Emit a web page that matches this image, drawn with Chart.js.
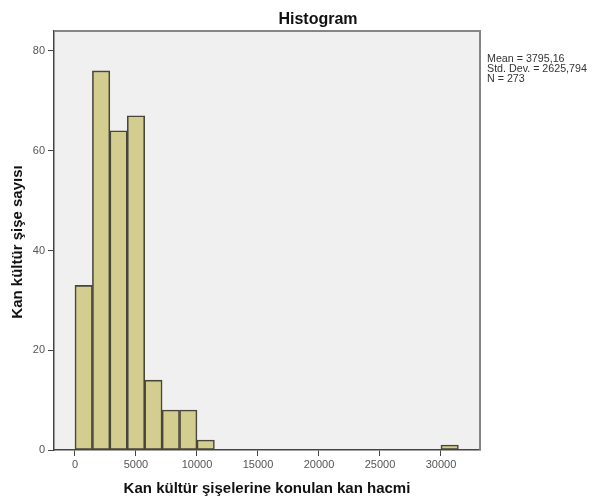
<!DOCTYPE html>
<html>
<head>
<meta charset="utf-8">
<title>Histogram</title>
<script src="https://cdn.jsdelivr.net/npm/chart.js@4.4.1/dist/chart.umd.min.js"></script>
<style>
  html, body { margin: 0; padding: 0; background: #ffffff; }
  #wrap { width: 592px; height: 501px; }
</style>
</head>
<body>
<div id="wrap"><canvas id="histChart" width="592" height="501"></canvas></div>
<script>
// Histogram bins: width ~1428.6, starting at 0
const binStart = 0;
const binWidth = 10000 / 7;
const binCounts = [33, 76, 64, 67, 14, 8, 8, 2, 0, 0, 0, 0, 0, 0, 0, 0, 0, 0, 0, 0, 0, 1];
const xTickValues = [0, 5000, 10000, 15000, 20000, 25000, 30000];
const yTickValues = [0, 20, 40, 60, 80];
const statLines = ["Mean = 3795,16", "Std. Dev. = 2625,794", "N = 273"];

const titleText = "Histogram";
const xTitle = "Kan kültür şişelerine konulan kan hacmi";
const yTitle = "Kan kültür şişe sayısı";

const FONT = "Arial, 'Liberation Sans', sans-serif";

const points = binCounts.map((count, i) => ({ x: binStart + (i + 0.5) * binWidth, y: count }));

// Gray plot background, frame and the SPSS-like texts around the plot.
const decorations = {
  id: "decorations",
  beforeDraw(chart) {
    const { ctx, chartArea: a } = chart;
    ctx.save();
    ctx.fillStyle = "#f0f0f0";
    ctx.fillRect(a.left, a.top, a.right - a.left, a.bottom - a.top);
    ctx.restore();
  },
  afterDraw(chart) {
    const { ctx, chartArea: a } = chart;
    ctx.save();
    ctx.strokeStyle = "#858585";
    ctx.lineWidth = 2;
    ctx.beginPath();
    ctx.moveTo(a.left, a.top);
    ctx.lineTo(a.right, a.top);
    ctx.lineTo(a.right, a.bottom);
    ctx.stroke();

    ctx.fillStyle = "#111111";
    ctx.textAlign = "center";
    ctx.textBaseline = "alphabetic";
    ctx.font = "bold 16px " + FONT;
    ctx.fillText(titleText, 318, 24);

    ctx.font = "bold 15px " + FONT;
    ctx.fillText(xTitle, (a.left + a.right) / 2, 493);

    ctx.save();
    ctx.translate(18, 242);
    ctx.rotate(-Math.PI / 2);
    ctx.textBaseline = "middle";
    ctx.fillText(yTitle, 0, 0);
    ctx.restore();

    ctx.fillStyle = "#333333";
    ctx.textAlign = "left";
    ctx.textBaseline = "top";
    ctx.font = "10.7px " + FONT;
    statLines.forEach((line, i) => ctx.fillText(line, 487, 54 + i * 10));
    ctx.restore();
  }
};

new Chart(document.getElementById("histChart"), {
  type: "bar",
  data: {
    datasets: [
      {
        data: points,
        backgroundColor: "#d3cd8f",
        borderColor: "#48463a",
        borderWidth: 1.6,
        borderSkipped: false,
        barPercentage: 1,
        categoryPercentage: 1
      }
    ]
  },
  options: {
    responsive: false,
    animation: false,
    layout: { padding: { top: 31, right: 112, bottom: 0, left: 0 } },
    plugins: {
      legend: { display: false },
      title: { display: false },
      tooltip: { enabled: false }
    },
    scales: {
      x: {
        type: "linear",
        min: -1720,
        max: 33200,
        offset: false,
        afterBuildTicks: (scale) => { scale.ticks = xTickValues.map((v) => ({ value: v })); },
        afterFit: (scale) => { scale.height = 51; },
        grid: { offset: false, drawOnChartArea: false, drawTicks: true, tickLength: 6, color: "#444444" },
        border: { display: true, color: "#444444", width: 1.5 },
        ticks: {
          padding: 2,
          maxRotation: 0,
          autoSkip: false,
          color: "#555555",
          font: { family: FONT, size: 11 },
          callback: (v) => String(v)
        }
      },
      y: {
        min: 0,
        max: 84,
        afterBuildTicks: (scale) => { scale.ticks = yTickValues.map((v) => ({ value: v })); },
        afterFit: (scale) => { scale.width = 54; },
        grid: { drawOnChartArea: false, drawTicks: true, tickLength: 6, color: "#444444" },
        border: { display: true, color: "#444444", width: 1.5 },
        ticks: {
          padding: 3,
          autoSkip: false,
          color: "#555555",
          font: { family: FONT, size: 11 },
          callback: (v) => String(v)
        }
      }
    }
  },
  plugins: [decorations]
});
</script>
</body>
</html>
